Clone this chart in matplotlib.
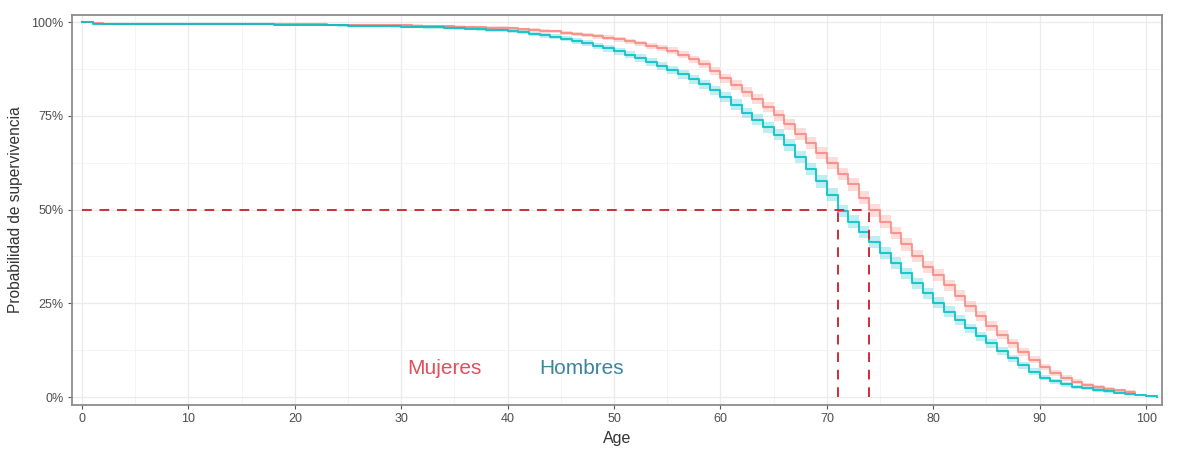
import numpy as np
import matplotlib
matplotlib.use("Agg")
import matplotlib.pyplot as plt
from matplotlib.ticker import MultipleLocator, FixedLocator

plt.rcParams['font.family'] = ['Liberation Sans', 'DejaVu Sans']

# Survival probability at the end of each year of age
ages_m = list(range(0, 102))
surv_m = [1.000, 0.9960, 0.9958, 0.9956, 0.9955, 0.9954, 0.9953, 0.9952, 0.9951, 0.9950,
          0.9949, 0.9948, 0.9947, 0.9946, 0.9944, 0.9942, 0.9940, 0.9937, 0.9934, 0.9930,
          0.9926, 0.9922, 0.9918, 0.9914, 0.9910, 0.9906, 0.9902, 0.9898, 0.9893, 0.9888,
          0.9882, 0.9875, 0.9867, 0.9858, 0.9848, 0.9837, 0.9824, 0.9810, 0.9795, 0.9778,
          0.9760, 0.9730, 0.9690, 0.9650, 0.9610, 0.9560, 0.9500, 0.9440, 0.9370, 0.9300,
          0.9220, 0.9130, 0.9040, 0.8940, 0.8840, 0.8730, 0.8610, 0.8480, 0.8340, 0.8180,
          0.8000, 0.7800, 0.7580, 0.7400, 0.7200, 0.7000, 0.6720, 0.6400, 0.6080, 0.5750,
          0.5400, 0.4960, 0.4680, 0.4400, 0.4130, 0.3850, 0.3570, 0.3300, 0.3030, 0.2770,
          0.2520, 0.2280, 0.2050, 0.1830, 0.1620, 0.1430, 0.1220, 0.1030, 0.0850, 0.0680,
          0.0520, 0.0420, 0.0340, 0.0280, 0.0230, 0.0190, 0.0150, 0.0120, 0.0090, 0.0060,
          0.0030, 0.0000]

ages_f = list(range(0, 100))
surv_f = [1.000, 0.9965, 0.9963, 0.9962, 0.9961, 0.9960, 0.9959, 0.9958, 0.9957, 0.9956,
          0.9955, 0.9954, 0.9953, 0.9952, 0.9951, 0.9950, 0.9949, 0.9948, 0.9946, 0.9944,
          0.9942, 0.9940, 0.9938, 0.9936, 0.9933, 0.9930, 0.9927, 0.9923, 0.9919, 0.9915,
          0.9910, 0.9905, 0.9900, 0.9894, 0.9888, 0.9880, 0.9872, 0.9863, 0.9853, 0.9842,
          0.9830, 0.9810, 0.9790, 0.9770, 0.9750, 0.9720, 0.9690, 0.9660, 0.9620, 0.9580,
          0.9540, 0.9490, 0.9430, 0.9370, 0.9310, 0.9240, 0.9130, 0.9010, 0.8880, 0.8700,
          0.8500, 0.8320, 0.8130, 0.7940, 0.7730, 0.7510, 0.7270, 0.7020, 0.6770, 0.6510,
          0.6240, 0.5960, 0.5670, 0.5320, 0.4980, 0.4680, 0.4380, 0.4070, 0.3770, 0.3470,
          0.3250, 0.2980, 0.2700, 0.2420, 0.2160, 0.1900, 0.1660, 0.1430, 0.1210, 0.1000,
          0.0800, 0.0640, 0.0510, 0.0410, 0.0330, 0.0270, 0.0220, 0.0180, 0.0140, 0.0100]

# cohort size used for the Greenwood confidence band
n_cohort = 3500

median_m = 71
median_f = 74

col_f = '#F8766D'
col_m = '#00BFC4'
col_median = '#D22B3A'


def greenwood_band(s, n0):
    s = np.asarray(s, dtype=float)
    at_risk = n0 * np.concatenate([[1.0], s[:-1]])
    died = at_risk - n0 * s
    denom = at_risk * np.clip(at_risk - died, 1e-9, None)
    var = np.cumsum(np.where(denom > 0, died / denom, 0.0))
    half = 1.96 * s * np.sqrt(var)
    return np.clip(s - half, 0, 1), np.clip(s + half, 0, 1)


fig = plt.figure(figsize=(11.83, 4.53), dpi=100)
ax = fig.add_axes([0.0609, 0.106, 0.9214, 0.8609])

for ages, surv, col in [(ages_f, surv_f, col_f), (ages_m, surv_m, col_m)]:
    lo, hi = greenwood_band(surv, n_cohort)
    ax.fill_between(ages, lo, hi, step='post', color=col, alpha=0.25, lw=0)

for ages, surv, col, a in [(ages_f, surv_f, col_f, 0.7), (ages_m, surv_m, col_m, 0.85)]:
    ax.step(ages, surv, where='post', color=col, lw=1.5, alpha=a)

# median survival guides
dash = (5, 4)
ax.plot([0, max(median_m, median_f)], [0.5, 0.5], color=col_median, lw=1.4,
        dashes=dash)
for med in (median_m, median_f):
    ax.plot([med, med], [0, 0.5], color=col_median, lw=1.4, dashes=dash)

ax.text(34.1, 0.076, 'Mujeres', color='#E0505A', fontsize=15, ha='center', va='center')
ax.text(46.9, 0.076, 'Hombres', color='#3C84A0', fontsize=15, ha='center', va='center')

ax.set_xlim(-0.94, 101.5)
ax.set_ylim(-0.021, 1.019)

ax.xaxis.set_major_locator(MultipleLocator(10))
ax.xaxis.set_minor_locator(MultipleLocator(5))
ax.yaxis.set_major_locator(FixedLocator([0, 0.25, 0.5, 0.75, 1.0]))
ax.yaxis.set_minor_locator(FixedLocator([0.125, 0.375, 0.625, 0.875]))
ax.set_yticklabels(['0%', '25%', '50%', '75%', '100%'])

ax.grid(which='major', color='#EBEBEB', lw=0.9)
ax.grid(which='minor', color='#F2F2F2', lw=0.6)
ax.set_axisbelow(True)

ax.tick_params(which='major', direction='out', length=3, width=0.8, color='#555555',
               labelsize=9, labelcolor='#4D4D4D', pad=3)
ax.tick_params(which='minor', length=0)

for sp in ax.spines.values():
    sp.set_color('#8C8C8C')
    sp.set_linewidth(1.3)

ax.set_xlabel('Age', fontsize=11.5, color='#333333', labelpad=4)
ax.set_ylabel('Probabilidad de supervivencia', fontsize=11.2, color='#333333', labelpad=6)

fig.savefig('out.png', dpi=100)
